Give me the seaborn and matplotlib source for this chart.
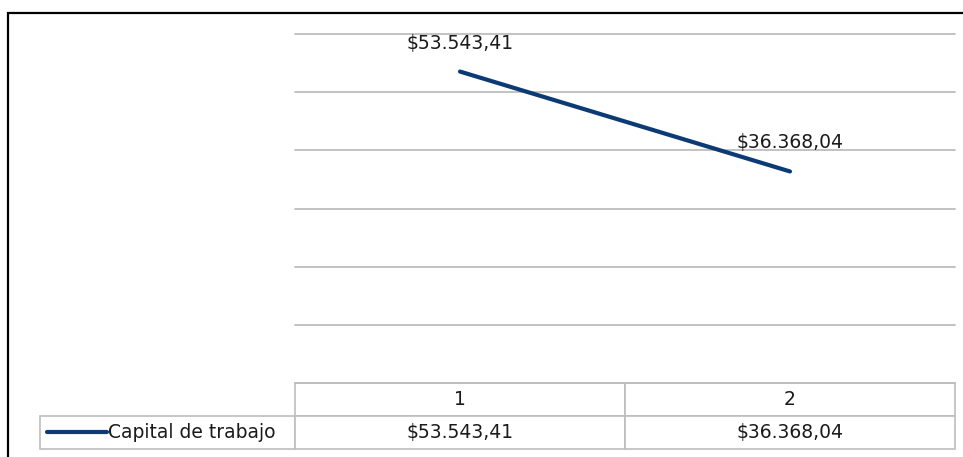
import matplotlib
matplotlib.use('Agg')
import matplotlib.pyplot as plt
import seaborn as sns
import pandas as pd
from matplotlib.patches import Rectangle
from matplotlib.lines import Line2D

# 數據
periodos = ['1', '2']
capital = [53543.41, 36368.04]
serie = 'Capital de trabajo'

def fmt(v):
    s = f'{v:,.2f}'
    s = s.replace(',', '#').replace('.', ',').replace('#', '.')
    return '$' + s

df = pd.DataFrame({'periodo': periodos, 'valor': capital})

sns.set_style('white')
plt.rcParams['font.family'] = ['DejaVu Sans']

W, H = 963, 457
fig = plt.figure(figsize=(W / 100, H / 100), dpi=100)
color = '#0B3A75'
grid_c = '#BDBDBD'
txt_c = '#1a1a1a'
fs = 13.5

# 繪圖區
ax = fig.add_axes([295 / W, (H - 383) / H, 660 / W, (383 - 34) / H])
sns.lineplot(data=df, x='periodo', y='valor', ax=ax, color=color, linewidth=3.0,
             solid_capstyle='round', sort=False)
ax.set_xlim(-0.5, 1.5)
ax.set_ylim(0, 60000)
ax.set_yticks(range(0, 60001, 10000))
ax.yaxis.grid(True, color=grid_c, linewidth=1.3)
for gl in ax.get_ygridlines():
    gl.set_clip_on(False)
ax.set_xticks([])
ax.set_yticklabels([])
ax.tick_params(left=False, bottom=False)
ax.set_xlabel('')
ax.set_ylabel('')
for sp in ax.spines.values():
    sp.set_visible(False)

# 數據標籤
for i, v in enumerate(capital):
    ax.annotate(fmt(v), (i, v), xytext=(0, 20.5), textcoords='offset points',
                ha='center', va='center', fontsize=fs, color=txt_c)

# 數據表
cell_text = [[''] + periodos, [''] + [fmt(v) for v in capital]]
tb = ax.table(cellText=cell_text, cellLoc='center',
              colWidths=[255 / 915, 330 / 915, 330 / 915],
              bbox=[(40 - 295) / 660, -(449 - 383) / 349, 915 / 660, 66 / 349])
tb.auto_set_font_size(False)
for (r, c), cell in tb.get_celld().items():
    cell.set_edgecolor(grid_c)
    cell.set_linewidth(1.2)
    cell.get_text().set_fontsize(fs)
    cell.get_text().set_color(txt_c)
    if r == 0 and c == 0:
        cell.visible_edges = ''

# 圖例
fig.lines.append(Line2D([47 / W, 107 / W], [(H - 432) / H] * 2, transform=fig.transFigure,
                        color=color, linewidth=3.0, solid_capstyle='round'))
fig.text(108 / W, (H - 432) / H, serie, ha='left', va='center', fontsize=fs, color=txt_c)

# 外框
fig.patches.append(Rectangle((8 / W, -0.1), 1.1, (H - 13) / H + 0.1, transform=fig.transFigure,
                             fill=False, edgecolor='black', linewidth=1.6))

fig.savefig('out.png', dpi=100)
